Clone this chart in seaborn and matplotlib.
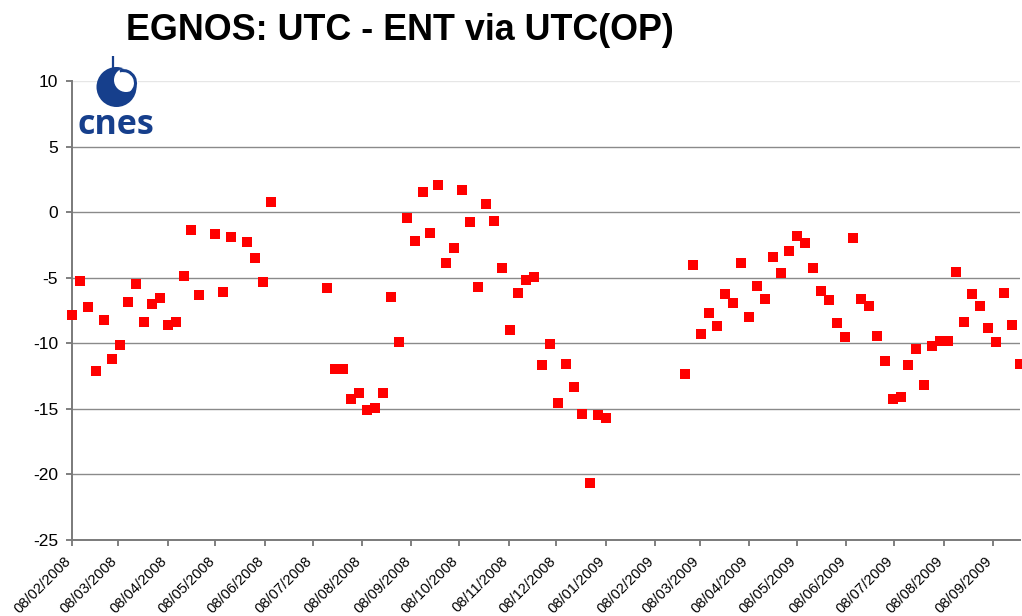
import matplotlib
matplotlib.use("Agg")
import matplotlib.pyplot as plt
import matplotlib.dates as mdates
import matplotlib.transforms as mtransforms
from matplotlib.patches import Circle, Arc
import seaborn as sns
import pandas as pd

# ---- data ----
dates = [
    "2008-02-08", "2008-02-13", "2008-02-18", "2008-02-23", "2008-02-28",
    "2008-03-04", "2008-03-09", "2008-03-14", "2008-03-19", "2008-03-24",
    "2008-03-29", "2008-04-03", "2008-04-08", "2008-04-13", "2008-04-18",
    "2008-04-23", "2008-04-28", "2008-05-08", "2008-05-13", "2008-05-18",
    "2008-05-28", "2008-06-02", "2008-06-07", "2008-06-12",
    "2008-07-17", "2008-07-22", "2008-07-27", "2008-08-01", "2008-08-06",
    "2008-08-11", "2008-08-16", "2008-08-21", "2008-08-26", "2008-08-31",
    "2008-09-05", "2008-09-10", "2008-09-15", "2008-09-20", "2008-09-25",
    "2008-09-30", "2008-10-05", "2008-10-10", "2008-10-15", "2008-10-20",
    "2008-10-25", "2008-10-30", "2008-11-04", "2008-11-09", "2008-11-14",
    "2008-11-19", "2008-11-24", "2008-11-29", "2008-12-04", "2008-12-09",
    "2008-12-14", "2008-12-19", "2008-12-24", "2008-12-29", "2009-01-03",
    "2009-01-08",
    "2009-02-27", "2009-03-04", "2009-03-09", "2009-03-14", "2009-03-19",
    "2009-03-24", "2009-03-29", "2009-04-03", "2009-04-08", "2009-04-13",
    "2009-04-18", "2009-04-23", "2009-04-28", "2009-05-03", "2009-05-08",
    "2009-05-13", "2009-05-18", "2009-05-23", "2009-05-28", "2009-06-02",
    "2009-06-07", "2009-06-12", "2009-06-17", "2009-06-22", "2009-06-27",
    "2009-07-02", "2009-07-07", "2009-07-12", "2009-07-17", "2009-07-22",
    "2009-07-27", "2009-08-01", "2009-08-06", "2009-08-11", "2009-08-16",
    "2009-08-21", "2009-08-26", "2009-08-31", "2009-09-05", "2009-09-10",
    "2009-09-15", "2009-09-20", "2009-09-25",
]
values = [
    -7.87, -5.28, -7.26, -12.15, -8.26,
    -11.18, -10.11, -6.88, -5.51, -8.41,
    -7.03, -6.58, -8.64, -8.41, -4.90,
    -1.39, -6.35, -1.69, -6.12, -1.92,
    -2.30, -3.52, -5.36, 0.75,
    -5.81, -11.99, -11.99, -14.28, -13.82,
    -15.12, -14.97, -13.82, -6.50, -9.93,
    -0.47, -2.23, 1.51, -1.62, 2.04,
    -3.91, -2.76, 1.66, -0.78, -5.74,
    0.59, -0.70, -4.29, -9.02, -6.19,
    -5.20, -4.97, -11.69, -10.08, -14.59,
    -11.61, -13.36, -15.42, -20.69, -15.50,
    -15.73,
    -12.37, -4.06, -9.32, -7.72, -8.71,
    -6.27, -6.96, -3.91, -8.02, -5.66,
    -6.65, -3.45, -4.67, -2.99, -1.85,
    -2.38, -4.29, -6.04, -6.73, -8.48,
    -9.55, -2.00, -6.65, -7.19, -9.47,
    -11.38, -14.28, -14.13, -11.69, -10.47,
    -13.21, -10.24, -9.86, -9.86, -4.59,
    -8.41, -6.27, -7.19, -8.86, -9.93,
    -6.19, -8.64, -11.61,
]
title = "EGNOS: UTC - ENT via UTC(OP)"
y_ticks = [-25, -20, -15, -10, -5, 0, 5, 10]
x_start, x_end = "2008-02-08", "2009-09-25"

df = pd.DataFrame({"date": pd.to_datetime(dates), "value": values})

# ---- style ----
sns.set_style("white")
plt.rcParams["font.family"] = ["Liberation Sans", "DejaVu Sans"]
plt.rcParams["axes.unicode_minus"] = False

W, H = 1022, 616
fig = plt.figure(figsize=(W / 100, H / 100), dpi=100)
ax = fig.add_axes([72 / W, 1 - 540 / H, (1020 - 72) / W, (540 - 81) / H])

sns.scatterplot(data=df, x="date", y="value", ax=ax, marker="s", s=44,
                color="#FF0000", linewidth=0, legend=False, clip_on=False,
                zorder=3)

ax.set_xlim(pd.Timestamp(x_start), pd.Timestamp(x_end))
ax.set_ylim(min(y_ticks), max(y_ticks))
ax.set_yticks(y_ticks)
ax.xaxis.set_major_locator(mdates.MonthLocator(bymonthday=8))
ax.xaxis.set_major_formatter(mdates.DateFormatter("%d/%m/%Y"))
ax.set_xlabel("")
ax.set_ylabel("")

ax.yaxis.grid(True, color="#8a8a8a", linewidth=1.0)
ax.xaxis.grid(False)
gl = ax.get_ygridlines()
gl[-1].set_color("#e6e6e6")
gl[0].set_visible(False)

for s in ["top", "right"]:
    ax.spines[s].set_visible(False)
for s in ["left", "bottom"]:
    ax.spines[s].set_color("#7a7a7a")
    ax.spines[s].set_linewidth(1.4)

ax.tick_params(axis="both", which="major", direction="out", length=4,
               width=1.2, color="#6a6a6a", labelcolor="#000000",
               left=True, bottom=True)
ax.tick_params(axis="y", pad=6, labelsize=12.5)
ax.tick_params(axis="x", pad=6.0, labelsize=10.5)
shift = mtransforms.ScaledTranslation(-8.0 / 100, 0, fig.dpi_scale_trans)
for lab in ax.get_xticklabels():
    lab.set_rotation(45)
    lab.set_ha("right")
    lab.set_va("top")
    lab.set_rotation_mode("anchor")
    lab.set_transform(lab.get_transform() + shift)

# ---- title ----
fig.text(400 / W, 1 - 31 / H, title, ha="center", va="center",
         fontsize=25.8, fontweight="bold", color="#000000")

# ---- CNES logo (drawn in pixel coordinates) ----
navy = "#163F8C"
lax = fig.add_axes([70 / W, 1 - 140 / H, 90 / W, 85 / H])
lax.set_xlim(70, 160)
lax.set_ylim(140, 55)
lax.set_aspect("equal")
lax.axis("off")
lax.add_patch(Circle((116.5, 87), 20, color=navy, lw=0))
lax.add_patch(Circle((126, 80), 12, color="white", lw=0))
lax.add_patch(Arc((123, 83), 25, 25, theta1=-105, theta2=50,
                  color=navy, lw=2.2))
lax.plot([113, 113], [56, 72], color=navy, lw=1.6, solid_capstyle="butt")
lax.text(115.5, 134, "cnes", ha="center", va="baseline", fontsize=24.5,
         fontweight="bold", color=navy, family="Open Sans")

fig.savefig("out.png", dpi=100)
